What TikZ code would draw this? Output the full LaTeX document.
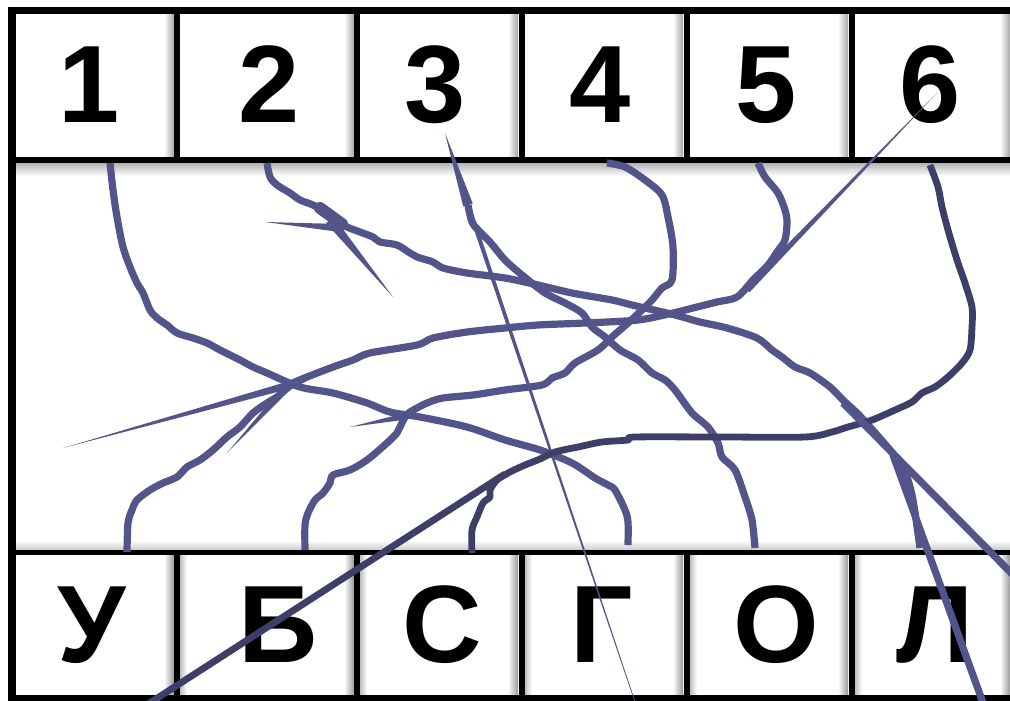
\documentclass[tikz,border=0pt]{standalone}
\usepackage{fontspec}
\setmainfont{Liberation Sans}
\usetikzlibrary{calc}
\definecolor{wirec}{HTML}{53558A}
\definecolor{darkc}{HTML}{3E3F69}
\newcommand\strip[5]{\fill[#5] ($(#1)!#3!90:(#2)$) -- ($(#1)!#3!-90:(#2)$) -- ($(#2)!#4!90:(#1)$) -- ($(#2)!#4!-90:(#1)$) -- cycle;}
\begin{document}
\begin{tikzpicture}[x=1pt,y=-1pt,
  wire/.style={draw=wirec, line width=7.2pt, line join=round, line cap=butt},
  darkwire/.style={wire, draw=darkc, line width=6.8pt},
  frameline/.style={draw=black, line width=6pt},
  lbl/.style={font=\fontsize{110}{120}\selectfont\bfseries, anchor=base, inner sep=0pt}]
\useasboundingbox (0,0) rectangle (1010,701);
\clip (0,0) rectangle (1010,701);
\fill[white] (0,0) rectangle (1010,701);
% shadows
\foreach \xr in {174,354,518,683,848,1010}{
  \shade[left color=white, right color=black!35] (\xr-10,14) rectangle (\xr,157);
  \shade[left color=white, right color=black!40] (\xr-10,555) rectangle (\xr,695);
}
\foreach \xl in {180,360,525,690,855}{
  \shade[left color=black!25, right color=white] (\xl,555) rectangle (\xl+7,695);
}
\shade[top color=black!30, bottom color=white] (16,163) rectangle (1010,176);
\shade[top color=white, bottom color=black!20] (16,540) rectangle (1010,550);
% frame
\draw[frameline, line width=7pt] (8,10.5) -- (1015,10.5);
\draw[frameline, line width=8pt] (12,7) -- (12,705);
\draw[frameline] (8,160) -- (1015,160);
\draw[frameline, line width=5pt] (8,552.5) -- (1015,552.5);
\draw[frameline] (8,698) -- (1015,698);
\foreach \xv in {177,357,521.5,686.5,851.5}{
  \draw[frameline] (\xv,10) -- (\xv,160);
  \draw[frameline] (\xv,552) -- (\xv,698);
}
% labels
\node[lbl] (n1) at (89,122) {1};
\node[lbl] (n2) at (269,122) {2};
\node[lbl] (n3) at (435,122) {3};
\node[lbl] (n4) at (600,122) {4};
\node[lbl] (n5) at (766,122) {5};
\node[lbl] (n6) at (930,122) {6};
\node[lbl] (l1) at (92,662) {У};
\node[lbl] (l2) at (278,662) {Б};
\node[lbl] (l3) at (442,662) {С};
\node[lbl] (l4) at (602,662) {Г};
\node[lbl] (l5) at (776,662) {О};
\node[lbl] (l6) at (935,662) {Л};
% named ends
\coordinate (s1) at (110,163);
\coordinate (s2) at (267,163);
\coordinate (s3) at (445,133);
\coordinate (j3) at (468,205);
\coordinate (s4) at (607,163);
\coordinate (s5) at (758,163);
\coordinate (s6) at (937,93);
\coordinate (j6) at (747,290);
\coordinate (d6) at (930,165);
\coordinate (e1) at (127,552);
\coordinate (e2) at (305,550);
\coordinate (e3) at (472,553);
\coordinate (e4) at (628,545);
\coordinate (e5) at (755,548);
\coordinate (e6) at (920,548);
% 1 -> G
\draw[wire] plot[smooth, tension=0.5] coordinates {(s1) (113,190) (117,217) (123,247) (130,267) (137,283) (143,293) (150,310) (157,318) (167,325) (177,333) (193,338) (207,343) (220,350) (240,360) (253,367) (267,373) (300,387) (333,393) (367,403) (390,412) (420,417) (467,427) (505,440) (540,450) (572,463) (595,478) (608,485) (615,490) (625,510) (628,522) (e4)};
% 2 -> L
\draw[wire] plot[smooth, tension=0.5] coordinates {(s2) (270,177) (277,185) (290,193) (300,200) (313,205) (327,213) (340,222) (347,227) (360,232) (373,237) (380,242) (397,245) (410,253) (417,257) (433,262) (443,268) (467,273) (505,278) (538,285) (572,293) (612,300) (632,305) (675,315) (700,322) (727,328) (757,338) (772,350) (782,357) (795,367) (810,373) (830,387) (843,400) (857,413) (870,427) (890,450) (900,463) (907,477) (913,500) (e6)};
\draw[draw=wirec, line width=12pt, line cap=round] (320,208) -- (342,224);
\strip{265,222}{340,228}{0pt}{4pt}{wirec}
\strip{330,220}{393,297}{5pt}{0pt}{wirec}
% 3 -> O
\strip{s3}{j3}{0pt}{5pt}{wirec}
\draw[wire] plot[smooth, tension=0.5] coordinates {(j3) (472,222) (480,232) (490,242) (505,260) (522,275) (545,293) (565,303) (582,313) (592,327) (605,337) (620,350) (638,360) (652,373) (665,380) (675,390) (692,413) (708,427) (718,443) (722,457) (735,470) (745,497) (752,520) (e5)};
\strip{j3}{636,705}{2.2pt}{0.3pt}{wirec}
% 4 -> B
\draw[wire] plot[smooth, tension=0.5] coordinates {(s4) (625,167) (645,180) (662,195) (668,217) (673,247) (672,280) (662,288) (652,300) (642,310) (628,323) (612,337) (598,350) (575,363) (565,373) (552,378) (542,385) (505,390) (473,395) (443,398) (427,403) (410,412) (405,417) (400,427) (397,433) (387,443) (367,460) (350,470) (333,475) (330,483) (323,493) (315,500) (308,513) (305,525) (e2)};
\strip{407,416}{350,427}{3.4pt}{0pt}{wirec}
% 5 (and 6) -> long line to the left
\draw[wire] plot[smooth, tension=0.5] coordinates {(s5) (765,177) (778,193) (785,210) (787,222) (785,240) (777,252) (768,265) (753,280) (737,297) (717,302) (693,308) (673,313) (638,320) (585,323) (538,325) (505,328) (467,332) (433,338) (417,345) (370,353) (353,360) (333,367) (307,377) (290,384) (280,388)};
\strip{s6}{j6}{0pt}{3.4pt}{wirec}
\strip{282,387}{63,448}{3.6pt}{0pt}{wirec}
% U line
\draw[wire] plot[smooth, tension=0.5] coordinates {(e1) (128,523) (132,510) (137,500) (150,490) (163,483) (177,477) (187,467) (200,460) (213,450) (227,437) (240,427) (253,413) (267,403) (277,397) (290,386) (305,378)};
\strip{280,395}{227,453}{3.4pt}{0pt}{wirec}
% 6 dark loop -> C
\draw[darkwire] plot[smooth, tension=0.5] coordinates {(d6) (938,187) (942,207) (948,230) (953,247) (958,263) (965,283) (972,307) (972,327) (970,350) (962,363) (948,377) (935,387) (922,393) (912,402) (895,410) (872,420) (848,427) (832,432) (805,437) (722,437) (635,437) (628,440) (602,442) (578,447) (555,452) (540,459) (525,465) (510,472) (497,480) (490,490) (490,497) (483,503) (477,517) (472,530) (e3)};
\draw[darkwire] (505,474) -- (131,715);
% straight strays on the right
\draw[wire] (843,403) -- (1030,592);
\draw[wire] (893,455) -- (990,722);
\end{tikzpicture}
\end{document}
